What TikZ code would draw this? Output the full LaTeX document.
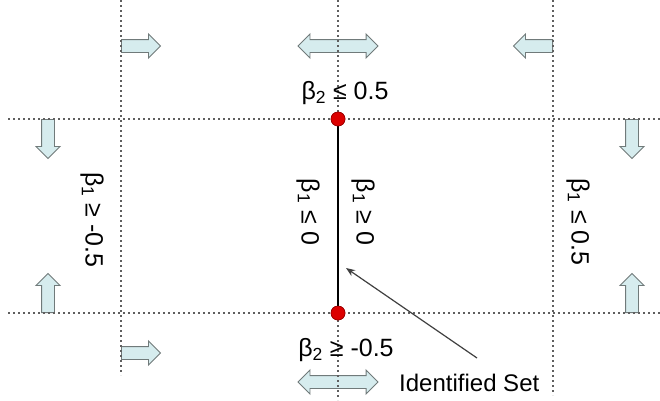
\documentclass[tikz,border=0pt]{standalone}
\usepackage{fontspec}
\setmainfont{Liberation Sans}
\usetikzlibrary{shapes.arrows,arrows.meta}
\definecolor{arrfill}{RGB}{214,236,238}
\definecolor{arrdraw}{RGB}{112,122,122}
\definecolor{dotgray}{RGB}{95,95,95}
\definecolor{dotred}{RGB}{220,0,0}
\tikzset{
  blockarr/.style={single arrow, draw=arrdraw, fill=arrfill, line width=0.9pt,
    inner xsep=0pt, inner ysep=6pt, single arrow head extend=5.5pt,
    minimum height=39pt, anchor=tail},
  dblarr/.style={double arrow, draw=arrdraw, fill=arrfill, line width=0.9pt,
    inner xsep=0pt, inner ysep=6pt, double arrow head extend=5.5pt,
    minimum height=80pt},
  guide/.style={draw=dotgray, line width=1.9pt, dash pattern=on 2.2pt off 2.8pt},
  reddot/.style={circle, fill=dotred, draw=red!60!black, line width=0.6pt,
    minimum size=14pt, inner sep=0pt},
  lab/.style={font=\fontsize{25}{28}\selectfont, inner sep=0pt},
}
\begin{document}
\begin{tikzpicture}[x=1pt,y=-1pt]
\useasboundingbox (0,0) rectangle (660,400);
% block arrows
\node[blockarr] (a1) at (121,46) {};
\node[dblarr] (a2) at (338,46) {};
\node[blockarr, rotate=180] (a3) at (553,46) {};
\node[blockarr, rotate=-90] (a4) at (48,119) {};
\node[blockarr, rotate=-90] (a5) at (632,119) {};
\node[blockarr, rotate=90] (a6) at (48,313) {};
\node[blockarr, rotate=90] (a7) at (632,313) {};
\node[blockarr] (a8) at (121,353) {};
\node[dblarr] (a9) at (338,382) {};
% guide lines
\coordinate (v1t) at (121,0); \coordinate (v1b) at (121,375);
\coordinate (v2t) at (338,0); \coordinate (v2b) at (338,400);
\coordinate (v3t) at (553,0); \coordinate (v3b) at (553,395);
\coordinate (h1l) at (8,119); \coordinate (h1r) at (660,119);
\coordinate (h2l) at (8,313); \coordinate (h2r) at (660,313);
\draw[guide] (v1t) -- (v1b);
\draw[guide] (v2t) -- (v2b);
\draw[guide] (v3t) -- (v3b);
\draw[guide] (h1l) -- (h1r);
\draw[guide] (h2l) -- (h2r);
% identified set
\node[reddot] (p1) at (338,119) {};
\node[reddot] (p2) at (338,313) {};
\draw[line width=2.4pt, black] (p1.center) -- (p2.center);
\node[reddot] at (338,119) {};
\node[reddot] at (338,313) {};
% labels
\node[lab] (t1) at (345,93) {β\textsubscript{2} ≤ 0.5};
\node[lab] (t2) at (346,350) {β\textsubscript{2} ≥ -0.5};
\node[lab, rotate=-90] (t3) at (92,220) {β\textsubscript{1} ≥ -0.5};
\node[lab, rotate=-90] (t4) at (308,212) {β\textsubscript{1} ≤ 0};
\node[lab, rotate=-90] (t5) at (363,212) {β\textsubscript{1} ≥ 0};
\node[lab, rotate=-90] (t6) at (578,222) {β\textsubscript{1} ≤ 0.5};
\node[lab, anchor=west, font=\fontsize{24}{27}\selectfont] (t7) at (399,383) {Identified Set};
\coordinate (pt) at (346,268);
\coordinate (ps) at (477,358);
\draw[line width=1.2pt, black!75, -{Stealth[length=9pt,width=7pt]}] (ps) -- (pt);
\end{tikzpicture}
\end{document}
